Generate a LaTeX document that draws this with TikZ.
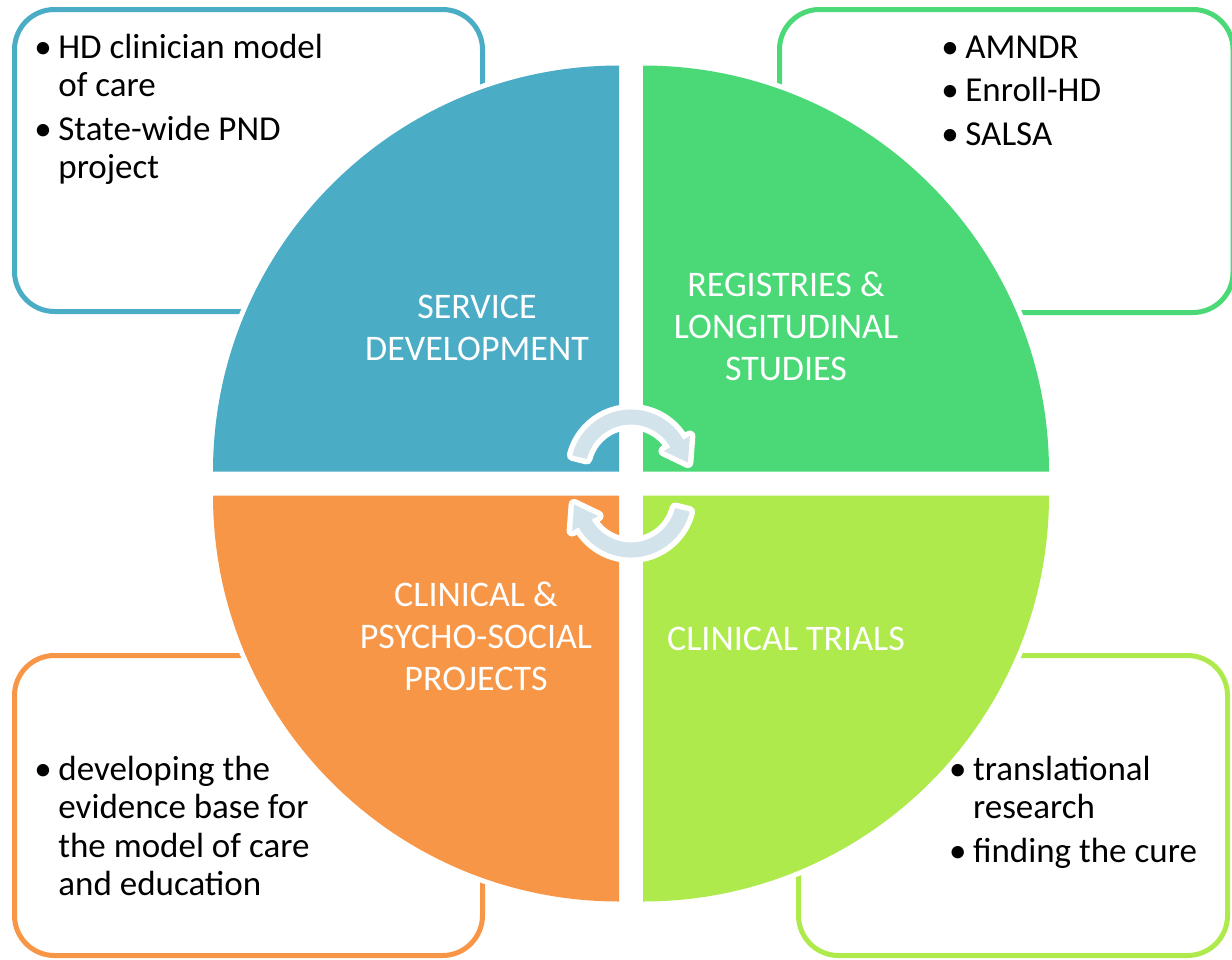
\documentclass[tikz,border=0pt]{standalone}
\usepackage{fontspec}
\setmainfont{Carlito}
\usepackage{tikz}

\definecolor{svcblue}{HTML}{4BACC6}
\definecolor{reggreen}{HTML}{4AD976}
\definecolor{clinorange}{HTML}{F79646}
\definecolor{triallime}{HTML}{AEEA4B}
\definecolor{arrowgrey}{HTML}{D2E3EB}

\newcommand{\cyclearrow}[1]{%
  \path[cyclearrow, #1] (166:60.5) arc[start angle=166, end angle=30, radius=60.5]
    -- (30:68) -- (56.9,7.45) -- (30:38) -- (30:45.5)
    arc[start angle=30, end angle=166, radius=45.5] -- cycle;}

\begin{document}
\begin{tikzpicture}[x=0.5pt, y=0.5pt,
    every node/.style={font=\fontsize{18}{20.8}\selectfont},
    notebox/.style={draw=#1, line width=2.5pt, rounded corners=20pt},
    quadfill/.style={fill=#1, preaction={draw=white, line width=5pt}},
    quadtext/.style={text=white, align=center, anchor=base, inner sep=0pt},
    notetext/.style={anchor=base west, inner sep=0pt, font=\fontsize{17.5}{19.3}\selectfont},
    cyclearrow/.style={fill=arrowgrey, preaction={draw=white, line width=5.5pt, line join=round}}]
  \useasboundingbox (0,0) rectangle (1232,-959);

  \draw[notebox=svcblue] (14.5,-9.5) rectangle (482.5,-311.5);
  \draw[notebox=reggreen] (779.5,-9.5) rectangle (1233,-312.5);
  \draw[notebox=clinorange] (14.5,-655.5) rectangle (482.5,-955.5);
  \draw[notebox=triallime] (798.5,-655.5) rectangle (1227.5,-955.5);

  \path[quadfill=svcblue] (619,-471.5) -- ++(-406,0) arc[start angle=180, end angle=90, radius=406] -- cycle;
  \path[quadfill=reggreen] (643,-471.5) -- ++(406,0) arc[start angle=0, end angle=90, radius=406] -- cycle;
  \path[quadfill=clinorange] (619,-495.5) -- ++(-406,0) arc[start angle=180, end angle=270, radius=406] -- cycle;
  \path[quadfill=triallime] (643,-495.5) -- ++(406,0) arc[start angle=0, end angle=-90, radius=406] -- cycle;

  \node[quadtext] (svclabel) at (477,-360) {SERVICE\\DEVELOPMENT};
  \node[quadtext] (reglabel) at (786,-380) {REGISTRIES \&\\LONGITUDINAL\\STUDIES};
  \node[quadtext] (clinlabel) at (476,-690) {CLINICAL \&\\PSYCHO-SOCIAL\\PROJECTS};
  \node[quadtext] (triallabel) at (786,-650) {CLINICAL TRIALS};

  \node[notetext] (svcnotes) at (34,-58) {\begin{tabular}[t]{@{}p{12pt}@{}l@{}}
    • & HD clinician model\\ & of care\\[2.5pt]
    • & State-wide PND\\ & project\end{tabular}};
  \node[notetext] (regnotes) at (941,-58) {\begin{tabular}[t]{@{}p{12pt}@{}l@{}}
    • & AMNDR\\[2.5pt] • & Enroll-HD\\[2.5pt] • & SALSA\end{tabular}};
  \node[notetext] (clinnotes) at (34,-780) {\begin{tabular}[t]{@{}p{12pt}@{}l@{}}
    • & developing the\\ & evidence base for\\ & the model of care\\ & and education\end{tabular}};
  \node[notetext] (trialnotes) at (948.7,-780) {\begin{tabular}[t]{@{}p{12pt}@{}l@{}}
    • & translational\\ & research\\[2.5pt] • & finding the cure\end{tabular}};

  \cyclearrow{shift={(631,-470)}}
  \cyclearrow{shift={(631,-497)}, rotate=180}
\end{tikzpicture}
\end{document}
